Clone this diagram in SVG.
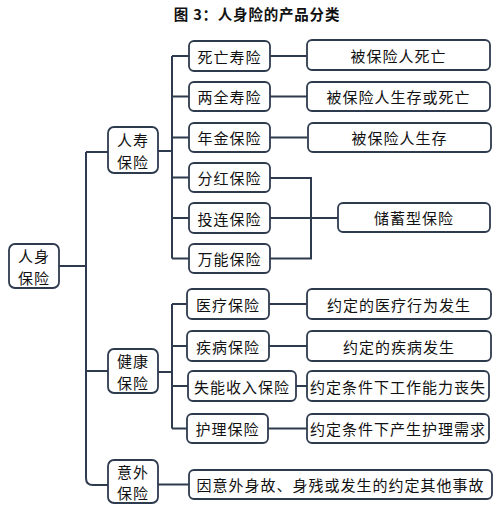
<svg xmlns="http://www.w3.org/2000/svg" width="500" height="510" viewBox="0 0 500 510">
<style>
.b{fill:#fff;stroke:#2e3b4e;stroke-width:1.8}
.c{fill:none;stroke:#2e3b4e;stroke-width:2}
text{font-family:"Noto Sans CJK SC","Noto Sans",sans-serif;font-size:15px;fill:#111;text-anchor:middle;dominant-baseline:central;letter-spacing:1px}
.t{font-size:14.5px;font-weight:bold;letter-spacing:0.8px}
</style>
<rect width="500" height="510" fill="#fff"/>
<text class="t" x="257" y="13">图 3：人身险的产品分类</text>
<g id="connectors">
<path class="c" d="M59,266H86M86,152V478Q86,485 93,485H108M86,152H108M86,371H108"/>
<path class="c" d="M158,151H172M172,56V258.5M172,56H189M172,96.5H189M172,137.5H189M172,177.5H189M172,218H189M172,258.5H189"/>
<path class="c" d="M270,56H307M270,96.5H307M270,137.5H307M270,178H311V258.5H270M270,218H338"/>
<path class="c" d="M158,372H172M172,304V428.5M172,304H187M172,346H187M172,386H188M172,428.5H187"/>
<path class="c" d="M269,304H307M269,346H307M296,386H307M268,428.5H307M158,484.5H189"/>
</g>
<g id="n-rensheng"><rect class="b" x="9" y="244" width="50" height="44" rx="6"/><text x="34" y="255">人身</text><text x="34" y="277">保险</text></g>
<g id="n-renshou"><rect class="b" x="108" y="127" width="50" height="46" rx="6"/><text x="133" y="139">人寿</text><text x="133" y="161">保险</text></g>
<g id="n-jiankang"><rect class="b" x="108" y="349" width="50" height="44" rx="6"/><text x="133" y="360">健康</text><text x="133" y="382">保险</text></g>
<g id="n-yiwai"><rect class="b" x="108" y="460" width="50" height="43" rx="6"/><text x="133" y="471">意外</text><text x="133" y="492">保险</text></g>
<g id="n-siwang"><rect class="b" x="189" y="41" width="81" height="30" rx="5"/><text x="229.5" y="56">死亡寿险</text></g>
<g id="n-liangquan"><rect class="b" x="189" y="82" width="81" height="29" rx="5"/><text x="229.5" y="96.5">两全寿险</text></g>
<g id="n-nianjin"><rect class="b" x="189" y="123" width="81" height="29" rx="5"/><text x="229.5" y="137.5">年金保险</text></g>
<g id="n-fenhong"><rect class="b" x="189" y="163" width="81" height="29" rx="5"/><text x="229.5" y="177.5">分红保险</text></g>
<g id="n-toulian"><rect class="b" x="189" y="203" width="81" height="30" rx="5"/><text x="229.5" y="218">投连保险</text></g>
<g id="n-wanneng"><rect class="b" x="189" y="244" width="81" height="29" rx="5"/><text x="229.5" y="258.5">万能保险</text></g>
<g id="d-siwang"><rect class="b" x="307" y="40" width="183" height="30" rx="5"/><text x="398.5" y="55">被保险人死亡</text></g>
<g id="d-liangquan"><rect class="b" x="307" y="82" width="183" height="29" rx="5"/><text x="398.5" y="96.5">被保险人生存或死亡</text></g>
<g id="d-nianjin"><rect class="b" x="308" y="123" width="183" height="29" rx="5"/><text x="399.5" y="137.5">被保险人生存</text></g>
<g id="d-chuxu"><rect class="b" x="338" y="203" width="152" height="29" rx="5"/><text x="414" y="217.5">储蓄型保险</text></g>
<g id="n-yiliao"><rect class="b" x="187" y="289" width="82" height="30" rx="5"/><text x="228" y="304">医疗保险</text></g>
<g id="n-jibing"><rect class="b" x="187" y="331" width="82" height="30" rx="5"/><text x="228" y="346">疾病保险</text></g>
<g id="n-shineng"><rect class="b" x="188" y="371" width="108" height="30" rx="5"/><text x="242" y="386">失能收入保险</text></g>
<g id="n-huli"><rect class="b" x="187" y="414" width="81" height="29" rx="5"/><text x="227.5" y="428.5">护理保险</text></g>
<g id="d-yiliao"><rect class="b" x="307" y="289" width="184" height="30" rx="5"/><text x="399" y="304">约定的医疗行为发生</text></g>
<g id="d-jibing"><rect class="b" x="307" y="331" width="184" height="30" rx="5"/><text x="399" y="346">约定的疾病发生</text></g>
<g id="d-shineng"><rect class="b" x="307" y="371" width="182" height="30" rx="5"/><text x="398" y="386">约定条件下工作能力丧失</text></g>
<g id="d-huli"><rect class="b" x="307" y="414" width="182" height="29" rx="5"/><text x="398" y="428.5">约定条件下产生护理需求</text></g>
<g id="d-yiwai"><rect class="b" x="189" y="470" width="303" height="29" rx="5"/><text x="340.5" y="484.5">因意外身故、身残或发生的约定其他事故</text></g>
</svg>
